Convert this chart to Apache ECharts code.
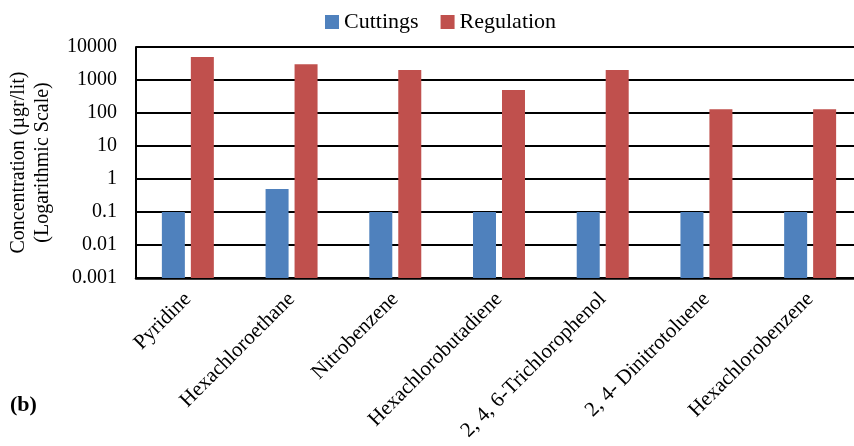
<!DOCTYPE html>
<html>
<head>
<meta charset="utf-8">
<script src="https://cdn.jsdelivr.net/npm/echarts@6/dist/echarts.min.js"></script>
<style>
  html, body { margin: 0; padding: 0; background: #fff; }
  #chart { width: 854px; height: 446px; }
</style>
</head>
<body>
<div id="chart"></div>
<script>
// Compounds measured
const categories = [
  'Pyridine',
  'Hexachloroethane',
  'Nitrobenzene',
  'Hexachlorobutadiene',
  '2, 4, 6-Trichlorophenol',
  '2, 4- Dinitrotoluene',
  'Hexachlorobenzene'
];
// Concentrations (µgr/lit)
const cuttings = [0.1, 0.5, 0.1, 0.1, 0.1, 0.1, 0.1];
const regulation = [5000, 3000, 2000, 500, 2000, 130, 130];
// Y-axis tick labels (decades)
const yTicks = ['0.001', '0.01', '0.1', '1', '10', '100', '1000', '10000'];

const serif = '"Liberation Serif", "Times New Roman", serif';
const chart = echarts.init(document.getElementById('chart'), null, { renderer: 'canvas' });

chart.setOption({
  animation: false,
  textStyle: { fontFamily: serif, color: '#000' },
  legend: {
    top: 6,
    left: 320,
    itemWidth: 14,
    itemHeight: 14,
    itemGap: 22,
    icon: 'rect',
    textStyle: { fontFamily: serif, fontSize: 22, color: '#000' },
    data: ['Cuttings', 'Regulation']
  },
  grid: { left: 136, right: -8, top: 47, bottom: 168, outerBoundsMode: 'none', containLabel: false },
  xAxis: {
    type: 'category',
    data: categories,
    axisLine: { show: true, lineStyle: { color: '#000', width: 2.5 } },
    axisTick: { show: false },
    axisLabel: {
      rotate: 45,
      interval: 0,
      margin: 18,
      fontFamily: serif,
      fontSize: 21,
      color: '#000'
    }
  },
  yAxis: {
    type: 'log',
    logBase: 10,
    min: 0.001,
    max: 10000,
    startValue: 0.001,
    name: 'Concentration (µgr/lit)\n(Logarithmic Scale)',
    nameLocation: 'middle',
    nameGap: 81,
    nameRotate: 90,
    nameTextStyle: { fontFamily: serif, fontSize: 20, color: '#000', lineHeight: 24 },
    axisLine: { show: true, lineStyle: { color: '#000', width: 2 } },
    axisTick: { show: false },
    splitLine: { show: true, lineStyle: { color: '#000', width: 2 } },
    axisLabel: {
      fontFamily: serif,
      fontSize: 20,
      color: '#000',
      margin: 19,
      formatter: function (v) {
        const e = Math.round(Math.log10(v));
        return yTicks[e + 3];
      }
    }
  },
  series: [
    {
      name: 'Cuttings',
      type: 'bar',
      data: cuttings,
      barWidth: 23,
      barGap: '26%',
      itemStyle: { color: '#4F81BD' }
    },
    {
      name: 'Regulation',
      type: 'bar',
      data: regulation,
      barWidth: 23,
      itemStyle: { color: '#C0504D' }
    }
  ],
  graphic: [
    {
      type: 'text',
      left: 10,
      top: 394,
      style: { text: '(b)', font: 'bold 22px ' + serif, fill: '#000' }
    }
  ]
});
</script>
</body>
</html>
